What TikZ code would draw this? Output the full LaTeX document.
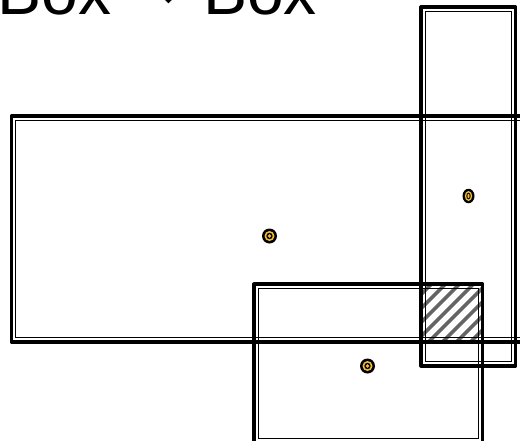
\documentclass[tikz,border=0pt]{standalone}
\usepackage{fontspec}
\setmainfont{Liberation Sans}
\newfontfamily\arrowfont{DejaVu Sans}
\usetikzlibrary{patterns.meta,shapes.geometric}
\definecolor{dotgold}{RGB}{240,190,50}
\definecolor{hatchgray}{RGB}{100,100,100}
\begin{document}
\begin{tikzpicture}[x=1pt,y=-1pt,
  outerline/.style={line width=3.2pt, line join=round, draw=black},
  innerline/.style={line width=1.2pt, draw=black},
  dotmark/.style={circle, fill=black, draw=none, minimum size=15pt, inner sep=0pt,
    path picture={
      \fill[dotgold] (path picture bounding box.center) circle (5pt);
      \fill[black] (path picture bounding box.center) circle (3.2pt);
      \fill[dotgold] (path picture bounding box.center) circle (1.9pt);}},
  dotoval/.style={ellipse, fill=black, draw=none, minimum width=12pt, minimum height=14.5pt, inner sep=0pt,
    path picture={
      \fill[dotgold] (path picture bounding box.center) ellipse [x radius=3.7pt, y radius=5pt];
      \fill[black] (path picture bounding box.center) ellipse [x radius=2.2pt, y radius=3.3pt];
      \fill[dotgold] (path picture bounding box.center) ellipse [x radius=1.1pt, y radius=2.1pt];}}
]
\useasboundingbox (0,0) rectangle (520,440);
\clip (0,0) rectangle (520,440);
\fill[white] (0,0) rectangle (520,440);

% title (cut off at top, as in the reference)
\node[font=\fontsize{66}{70}\selectfont, anchor=base east, inner sep=0pt] (title) at (317,14)
  {Box {\arrowfont\raisebox{4pt}{→}} Box};

% box corners
\coordinate (a1) at (11.5,116); \coordinate (a2) at (532,342);
\coordinate (b1) at (421,7);    \coordinate (b2) at (515.5,366);
\coordinate (c1) at (254,284);  \coordinate (c2) at (482.5,442.5);

% hatched intersection
\pattern[pattern={Lines[angle=45,distance=10.5pt,line width=4pt]}, pattern color=hatchgray]
  (b1 |- c1) rectangle (c2 |- a2);

% box A
\draw[outerline] (a1) rectangle (a2);
\draw[innerline] ([shift={(4.3,4.3)}]a1) rectangle ([shift={(-4.3,-4.3)}]a2);
% box B
\draw[outerline] (b1) rectangle (b2);
\draw[innerline] ([shift={(4.3,4.3)}]b1) rectangle ([shift={(-4.3,-4.3)}]b2);
% box C
\draw[outerline] (c1) rectangle (c2);
\draw[innerline] ([shift={(4.3,4.3)}]c1) rectangle ([shift={(-4.3,-4.3)}]c2);

% centre marks
\node[dotmark] (da) at (269.5,236) {};
\node[dotoval] (db) at (468.5,196) {};
\node[dotmark] (dc) at (367.5,366) {};
\end{tikzpicture}
\end{document}
